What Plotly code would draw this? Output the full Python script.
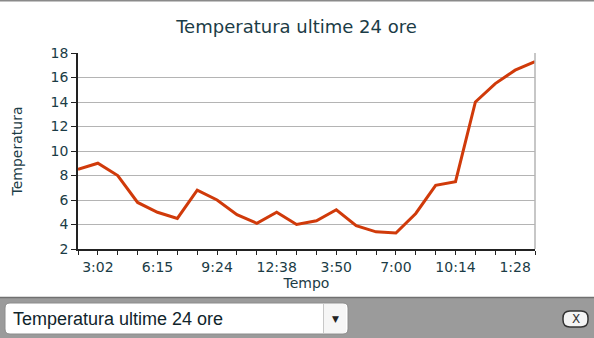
import plotly.graph_objects as go

# ---- data ----
times = ["1:58", "3:02", "4:06", "5:11", "6:15", "7:18", "8:21", "9:24",
         "10:29", "11:33", "12:38", "1:42", "2:46", "3:50", "4:53", "5:57",
         "7:00", "8:04", "9:09", "10:14", "11:19", "12:23", "1:28", "2:32"]
temps = [8.5, 9.0, 8.0, 5.8, 5.0, 4.5, 6.8, 6.0, 4.8, 4.1, 5.0, 4.0,
         4.3, 5.2, 3.9, 3.4, 3.3, 4.9, 7.2, 7.5, 14.0, 15.5, 16.6, 17.3]
label_every = 3
label_offset = 1
y_ticks = [2, 4, 6, 8, 10, 12, 14, 16, 18]
title = "Temperatura ultime 24 ore"

W, H = 594, 338
L, R, T, B = 78, 535, 53, 249  # plot area in px
PW, PH = R - L, B - T


def px(x):
    return (x - L) / PW


def py(y):
    return (B - y) / PH


idx = list(range(len(times)))
ticktext = [t if (i - label_offset) % label_every == 0 else "" for i, t in enumerate(times)]

TXT = "#1b3c46"
fig = go.Figure()
fig.add_trace(go.Scatter(x=idx, y=temps, mode="lines",
                         line=dict(color="#d03a0a", width=3), hoverinfo="skip"))

fig.update_layout(
    width=W, height=H,
    margin=dict(l=L, r=W - R, t=T, b=H - B),
    paper_bgcolor="white", plot_bgcolor="white",
    showlegend=False,
    font=dict(family="DejaVu Sans", color=TXT, size=14),
    title=dict(text=title, x=px(296.5), xref="paper", xanchor="center",
               y=1 - 27 / H, yanchor="middle", font=dict(size=18, color=TXT)),
)
fig.update_xaxes(range=[0, len(times) - 1], tickmode="array", tickvals=idx,
                 ticktext=ticktext, ticks="outside", ticklen=4, tickcolor="#222",
                 showline=True, linecolor="#222", linewidth=1.5, showgrid=False,
                 zeroline=False, mirror=False, tickfont=dict(size=14),
                 title=dict(text="Tempo", standoff=0, font=dict(size=14)))
fig.update_yaxes(range=[2, 18], tickmode="array", tickvals=y_ticks,
                 ticks="outside", ticklen=5, tickcolor="#222",
                 showline=True, linecolor="#222", linewidth=1.5,
                 showgrid=True, gridcolor="#b4b4b4", gridwidth=1, zeroline=False,
                 tickfont=dict(size=14),
                 title=dict(text="Temperatura", standoff=25, font=dict(size=14)))

shapes = []
# right border of plot (gray)
shapes.append(dict(type="line", xref="paper", yref="paper", x0=1, x1=1, y0=0, y1=1,
                   line=dict(color="#b4b4b4", width=1.5)))
# top thin border
shapes.append(dict(type="line", xref="paper", yref="paper", x0=px(0), x1=px(W),
                   y0=py(0.75), y1=py(0.75), line=dict(color="#8a8a8a", width=1.5)))
# bottom bar
shapes.append(dict(type="rect", xref="paper", yref="paper", x0=px(-1), x1=px(W + 1),
                   y0=py(297), y1=py(H + 1), fillcolor="#9b9b9b", line=dict(width=0)))
shapes.append(dict(type="line", xref="paper", yref="paper", x0=px(0), x1=px(W),
                   y0=py(297.5), y1=py(297.5), line=dict(color="#707070", width=1.5)))


def rounded(x0, y0, x1, y1, r):
    return (f"M {px(x0 + r)},{py(y0)} L {px(x1 - r)},{py(y0)} Q {px(x1)},{py(y0)} {px(x1)},{py(y0 + r)} "
            f"L {px(x1)},{py(y1 - r)} Q {px(x1)},{py(y1)} {px(x1 - r)},{py(y1)} "
            f"L {px(x0 + r)},{py(y1)} Q {px(x0)},{py(y1)} {px(x0)},{py(y1 - r)} "
            f"L {px(x0)},{py(y0 + r)} Q {px(x0)},{py(y0)} {px(x0 + r)},{py(y0)} Z")


# dropdown box
shapes.append(dict(type="path", xref="paper", yref="paper", path=rounded(5, 303, 348, 334, 5),
                   fillcolor="white", line=dict(color="#8c8c8c", width=1)))
shapes.append(dict(type="rect", xref="paper", yref="paper", x0=px(324), x1=px(346),
                   y0=py(304), y1=py(333), fillcolor="#f6f6f6", line=dict(width=0)))
shapes.append(dict(type="line", xref="paper", yref="paper", x0=px(323.5), x1=px(323.5),
                   y0=py(303.5), y1=py(333.5), line=dict(color="#c8c8c8", width=1)))
# close button
shapes.append(dict(type="path", xref="paper", yref="paper", path=rounded(563, 311, 588, 327, 7),
                   fillcolor="#f4f4f4", line=dict(color="#333333", width=1.5)))

annotations = [
    dict(text="Temperatura ultime 24 ore", xref="paper", yref="paper", x=px(11), y=py(319),
         xanchor="left", yanchor="middle", showarrow=False,
         font=dict(family="Liberation Sans", size=18, color="#10242b")),
    dict(text="▼", xref="paper", yref="paper", x=px(335), y=py(319),
         xanchor="center", yanchor="middle", showarrow=False,
         font=dict(family="DejaVu Sans", size=9, color="#222")),
    dict(text="X", xref="paper", yref="paper", x=px(575.5), y=py(319),
         xanchor="center", yanchor="middle", showarrow=False,
         font=dict(family="DejaVu Sans", size=12, color="#333")),
]
fig.update_layout(shapes=shapes, annotations=annotations)

fig.write_html("out.html")
